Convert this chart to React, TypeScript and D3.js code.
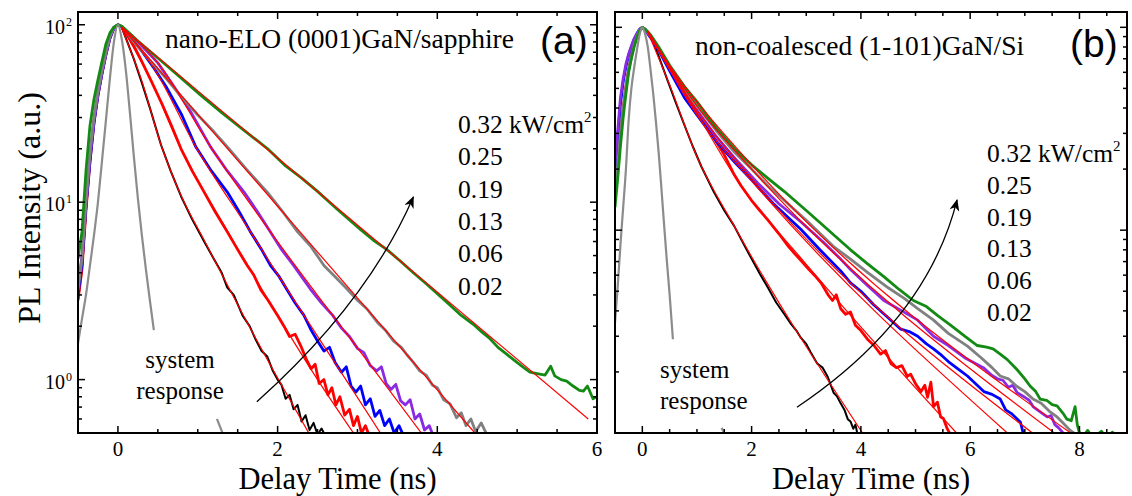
import React, { useEffect, useRef } from "react";
import * as d3 from "d3";

type Pt = [number, number];

// ---- panel (a): nano-ELO (0001)GaN/sapphire, [delay ns, PL a.u.] ----
const aSystem: Pt[] = [
  [-0.5, 1.6], [-0.45, 2.2], [-0.4, 3.0], [-0.35, 4.4], [-0.3, 6.5], [-0.25, 10], [-0.2, 17],
  [-0.15, 29], [-0.1, 50], [-0.05, 80], [0, 100], [0.05, 82], [0.1, 55], [0.15, 32], [0.2, 18],
  [0.25, 10.5], [0.3, 6.5], [0.35, 4.2], [0.4, 2.8], [0.45, 1.9],
];
const aSystemTail: Pt[] = [[1.24, 0.6], [1.31, 0.5]];

const aBlack: Pt[] = [
  [-0.5, 2.8], [-0.45, 4.2], [-0.4, 9], [-0.35, 17], [-0.3, 28], [-0.25, 40], [-0.2, 53], [-0.15, 68],
  [-0.1, 84], [-0.05, 96], [0, 100], [0.05, 96], [0.1, 84], [0.2, 64], [0.3, 47], [0.4, 34], [0.54, 21],
  [0.66, 15], [0.79, 10.8], [0.93, 8], [1.08, 6], [1.2, 4.8], [1.3, 4.0], [1.37, 3.3], [1.45, 3.0],
  [1.56, 2.3], [1.65, 2.0], [1.72, 1.7], [1.8, 1.45], [1.87, 1.35], [1.94, 1.12], [2.0, 1.0], [2.05, 0.93],
  [2.1, 0.78], [2.15, 0.82], [2.2, 0.68], [2.25, 0.72], [2.3, 0.58], [2.35, 0.63], [2.4, 0.52],
  [2.45, 0.57], [2.5, 0.49], [2.55, 0.53], [2.6, 0.48],
];
const aRed: Pt[] = [
  [-0.5, 2.8], [-0.45, 4.2], [-0.4, 9], [-0.35, 17], [-0.3, 28], [-0.25, 40], [-0.2, 53], [-0.15, 68],
  [-0.1, 84], [-0.05, 96], [0, 100], [0.05, 97], [0.1, 90], [0.2, 76], [0.3, 62], [0.4, 50], [0.55, 36],
  [0.67, 27], [0.79, 20], [0.93, 15], [1.08, 11.4], [1.22, 8.8], [1.37, 6.8], [1.5, 5.4], [1.62, 4.4],
  [1.7, 3.9], [1.79, 3.2], [1.88, 2.8], [2.0, 2.3], [2.08, 2.0], [2.15, 1.75], [2.22, 1.8], [2.29, 1.55],
  [2.36, 1.3], [2.42, 1.15], [2.47, 1.22], [2.52, 0.95], [2.58, 1.0], [2.63, 0.82], [2.68, 0.9],
  [2.73, 0.72], [2.78, 0.8], [2.84, 0.63], [2.9, 0.68], [2.95, 0.55], [3.0, 0.62], [3.05, 0.5],
  [3.1, 0.55], [3.15, 0.48],
];
const aBlue: Pt[] = [
  [-0.5, 3.0], [-0.45, 4.5], [-0.4, 9.5], [-0.35, 17], [-0.3, 28], [-0.25, 40], [-0.2, 53], [-0.15, 68],
  [-0.1, 84], [-0.05, 96], [0, 100], [0.05, 97], [0.15, 86], [0.3, 71], [0.45, 57], [0.6, 45], [0.8, 31],
  [0.975, 20.5], [1.17, 15], [1.37, 11.4], [1.52, 8.8], [1.66, 6.8], [1.8, 5.4], [1.91, 4.4], [2.02, 3.8],
  [2.12, 3.2], [2.22, 2.7], [2.33, 2.3], [2.42, 1.9], [2.5, 1.65], [2.58, 1.45], [2.65, 1.52], [2.72, 1.25],
  [2.8, 1.1], [2.86, 1.18], [2.92, 0.92], [2.98, 0.85], [3.04, 0.92], [3.1, 0.72], [3.16, 0.78],
  [3.22, 0.62], [3.28, 0.67], [3.34, 0.55], [3.4, 0.6], [3.46, 0.5], [3.52, 0.55], [3.58, 0.48],
];
const aPurple: Pt[] = [
  [-0.5, 3.3], [-0.45, 5], [-0.4, 10], [-0.35, 18], [-0.3, 29], [-0.25, 41], [-0.2, 54], [-0.15, 69],
  [-0.1, 85], [-0.05, 96], [0, 100], [0.05, 97], [0.15, 89], [0.3, 76], [0.5, 61], [0.7, 45], [0.9, 33],
  [1.16, 20.5], [1.37, 15], [1.58, 11.4], [1.75, 8.8], [1.91, 6.8], [2.05, 5.4], [2.2, 4.4], [2.3, 3.8],
  [2.41, 3.24], [2.55, 2.7], [2.69, 2.3], [2.8, 1.95], [2.9, 1.75], [3.0, 1.5], [3.08, 1.42], [3.16, 1.2],
  [3.24, 1.12], [3.3, 1.18], [3.36, 0.95], [3.42, 0.88], [3.48, 0.94], [3.54, 0.76], [3.6, 0.72],
  [3.66, 0.77], [3.72, 0.6], [3.78, 0.64], [3.84, 0.52], [3.9, 0.55], [3.95, 0.48],
];
const aGray: Pt[] = [
  [-0.5, 3.2], [-0.45, 4.8], [-0.4, 10], [-0.35, 19], [-0.3, 30], [-0.25, 42], [-0.2, 55], [-0.15, 70],
  [-0.1, 86], [-0.05, 97], [0, 100], [0.05, 98], [0.2, 80], [0.4, 63], [0.6, 50], [0.8, 39], [1.0, 31],
  [1.2, 25], [1.39, 20], [1.6, 15.5], [1.87, 11.4], [2.05, 9], [2.25, 6.8], [2.42, 5.6], [2.58, 4.4],
  [2.72, 3.8], [2.87, 3.24], [3.0, 2.8], [3.12, 2.5], [3.25, 2.1], [3.35, 1.9], [3.45, 1.65], [3.55, 1.52],
  [3.62, 1.38], [3.7, 1.25], [3.78, 1.12], [3.86, 1.06], [3.94, 0.93], [4.0, 0.9], [4.08, 0.77],
  [4.16, 0.73], [4.24, 0.61], [4.3, 0.65], [4.36, 0.55], [4.42, 0.6], [4.48, 0.51], [4.55, 0.57],
  [4.62, 0.49],
];
const aGreen: Pt[] = [
  [-0.5, 4.8], [-0.45, 6.8], [-0.4, 15], [-0.35, 27], [-0.3, 38], [-0.25, 49], [-0.2, 62], [-0.15, 78],
  [-0.1, 90], [-0.05, 97], [0, 100], [0.05, 98], [0.25, 81], [0.5, 65], [0.75, 52], [1.04, 40], [1.3, 32],
  [1.6, 25], [1.875, 20], [2.1, 16], [2.29, 13.8], [2.5, 11.5], [2.75, 9.1], [3.04, 7], [3.2, 6.1],
  [3.37, 5.4], [3.55, 4.6], [3.7, 4.0], [3.85, 3.5], [4.0, 3.05], [4.15, 2.65], [4.3, 2.3], [4.45, 2.05],
  [4.56, 1.85], [4.66, 1.7], [4.76, 1.52], [4.86, 1.4], [4.95, 1.3], [5.05, 1.2], [5.16, 1.1], [5.25, 1.08],
  [5.35, 1.06], [5.42, 1.19], [5.47, 1.05], [5.55, 1.0], [5.62, 0.98], [5.7, 0.92], [5.78, 0.87],
  [5.83, 0.86], [5.88, 0.92], [5.95, 0.78], [6.0, 0.8],
];

// thin red fits, read along each decay
const aFitBlack: Pt[] = [[0.05, 95], [0.3, 48], [0.54, 21], [0.79, 10.9], [1.08, 6.1], [1.56, 2.35], [2.0, 1.02], [2.39, 0.5]];
const aFitRed: Pt[] = [[0.05, 97], [0.4, 50], [0.79, 20], [1.37, 6.9], [2.0, 2.3], [2.5, 1.0], [2.95, 0.5]];
const aFitBlue: Pt[] = [[0.05, 97], [0.45, 57], [0.975, 20.5], [1.66, 6.8], [2.33, 2.3], [2.9, 0.93], [3.3, 0.49]];
const aFitPurple: Pt[] = [[0.05, 97], [0.5, 61], [1.16, 20.5], [1.91, 6.8], [2.69, 2.3], [3.3, 1.0], [3.8, 0.5]];
const aFitGray: Pt[] = [[0.05, 97], [4.47, 0.5]];
const aFitGreen: Pt[] = [[0.05, 97], [5.89, 0.6]];

// ---- panel (b): non-coalesced (1-101)GaN/Si ----
const bSystem: Pt[] = [
  [-0.5, 3.5], [-0.45, 5.3], [-0.4, 8.5], [-0.35, 13], [-0.3, 20], [-0.25, 35], [-0.2, 50], [-0.15, 63],
  [-0.1, 77], [-0.05, 92], [0, 100], [0.05, 93], [0.1, 80], [0.15, 62], [0.2, 47], [0.25, 34], [0.3, 24],
  [0.35, 16], [0.4, 10.5], [0.45, 7], [0.5, 4.8], [0.56, 2.9],
];
const bSystemTail: Pt[] = [[1.45, 1.06], [1.5, 1.0]];

const bBlack: Pt[] = [
  [-0.5, 15], [-0.45, 21], [-0.4, 30], [-0.35, 40], [-0.3, 51], [-0.25, 62], [-0.2, 72], [-0.15, 82],
  [-0.1, 90], [-0.05, 97], [0, 100], [0.05, 97], [0.16, 90], [0.3, 72], [0.47, 54], [0.62, 42], [0.77, 33],
  [0.92, 26], [1.08, 20.6], [1.31, 15.4], [1.5, 12.5], [1.68, 10.5], [1.85, 8.6], [1.99, 7.3], [2.15, 6.1],
  [2.3, 5.2], [2.45, 4.4], [2.6, 3.85], [2.72, 3.45], [2.82, 3.2], [2.9, 2.95], [3.0, 2.75], [3.08, 2.5],
  [3.2, 2.2], [3.3, 2.1], [3.39, 1.9], [3.45, 1.72], [3.5, 1.58], [3.56, 1.52], [3.63, 1.4], [3.7, 1.3],
  [3.76, 1.17], [3.81, 1.14], [3.86, 1.05], [3.9, 1.1], [3.94, 0.98],
];
const bRed: Pt[] = [
  [-0.5, 15], [-0.45, 21], [-0.4, 30], [-0.35, 40], [-0.3, 51], [-0.25, 62], [-0.2, 72], [-0.15, 82],
  [-0.1, 90], [-0.05, 97], [0, 100], [0.05, 98], [0.2, 86], [0.45, 66], [0.77, 48], [1.0, 38], [1.26, 30],
  [1.5, 23.5], [1.68, 18.8], [1.81, 16.5], [2.0, 14], [2.15, 12.5], [2.3, 11.2], [2.5, 9.6], [2.66, 8.4],
  [2.8, 7.6], [2.9, 7.1], [3.05, 6.4], [3.15, 6.0], [3.27, 5.5], [3.4, 4.8], [3.48, 4.5], [3.55, 4.8],
  [3.63, 4.1], [3.72, 3.85], [3.81, 3.95], [3.9, 3.4], [4.0, 3.2], [4.12, 2.9], [4.24, 2.7], [4.36, 2.45],
  [4.45, 2.55], [4.55, 2.2], [4.65, 2.1], [4.75, 2.15], [4.85, 1.9], [4.91, 1.95], [5.0, 1.75], [5.1, 1.6],
  [5.17, 1.72], [5.22, 1.5], [5.28, 1.78], [5.33, 1.35], [5.4, 1.42], [5.46, 1.2], [5.51, 1.18],
  [5.58, 1.05], [5.64, 0.98],
];
const bBlue: Pt[] = [
  [-0.5, 19], [-0.45, 29], [-0.4, 42], [-0.35, 54], [-0.3, 64], [-0.25, 73], [-0.2, 80], [-0.15, 87],
  [-0.1, 93], [-0.05, 98], [0, 100], [0.05, 97], [0.15, 89], [0.3, 77], [0.5, 61], [0.77, 45], [1.0, 37],
  [1.35, 27.5], [1.7, 21.5], [1.99, 17.8], [2.4, 13.5], [2.9, 10.1], [3.25, 8], [3.63, 6.3], [3.81, 5.5],
  [4.0, 5.0], [4.23, 4.3], [4.5, 3.7], [4.73, 3.25], [4.9, 3.15], [5.04, 3.0], [5.2, 2.75], [5.33, 2.6],
  [5.45, 2.45], [5.6, 2.25], [5.8, 2.05], [5.95, 1.91], [6.1, 1.75], [6.25, 1.6], [6.4, 1.55],
  [6.55, 1.47], [6.65, 1.3], [6.75, 1.25], [6.85, 1.18], [6.92, 1.13], [6.97, 1.0],
];
const bPurple: Pt[] = [
  [-0.5, 21], [-0.45, 31], [-0.4, 45], [-0.35, 56], [-0.3, 66], [-0.25, 74], [-0.2, 81], [-0.15, 88],
  [-0.1, 93], [-0.05, 98], [0, 100], [0.05, 97], [0.15, 90], [0.3, 78], [0.5, 63], [0.77, 47], [1.0, 39],
  [1.35, 29], [1.7, 22.5], [2.12, 17], [2.5, 13.5], [2.9, 11], [3.3, 8.8], [3.63, 7.2], [3.81, 6.4],
  [4.1, 5.4], [4.42, 4.5], [4.75, 4.0], [5.04, 3.6], [5.33, 3.0], [5.6, 2.7], [5.9, 2.35], [6.24, 2.1],
  [6.4, 1.92], [6.5, 1.85], [6.6, 1.82], [6.7, 1.68], [6.78, 1.72], [6.86, 1.58], [7.0, 1.5], [7.08, 1.45],
  [7.15, 1.35], [7.3, 1.26], [7.41, 1.2], [7.48, 1.22], [7.55, 1.1], [7.62, 1.06], [7.7, 1.0],
];
const bGray: Pt[] = [
  [-0.5, 15], [-0.45, 21], [-0.4, 30], [-0.35, 40], [-0.3, 51], [-0.25, 62], [-0.2, 72], [-0.15, 82],
  [-0.1, 90], [-0.05, 97], [0, 100], [0.05, 98], [0.15, 91], [0.3, 79], [0.5, 64], [0.77, 49], [1.0, 41],
  [1.35, 31], [1.7, 24], [2.0, 20], [2.3, 16.5], [2.6, 14], [3.0, 11.2], [3.5, 8.3], [3.81, 7.2],
  [4.12, 6.2], [4.5, 5.2], [4.8, 4.6], [5.04, 4.1], [5.33, 3.6], [5.6, 3.1], [5.95, 2.68], [6.2, 2.35],
  [6.4, 2.1], [6.55, 1.91], [6.7, 1.85], [6.85, 1.7], [7.0, 1.6], [7.15, 1.47], [7.3, 1.4], [7.45, 1.28],
  [7.59, 1.2], [7.7, 1.12], [7.83, 1.03], [7.9, 1.0],
];
const bGreen: Pt[] = [
  [-0.5, 13], [-0.45, 18], [-0.4, 26], [-0.35, 36], [-0.3, 47], [-0.25, 60], [-0.2, 70], [-0.15, 80],
  [-0.1, 89], [-0.05, 96], [0, 100], [0.05, 98], [0.15, 92], [0.3, 80], [0.5, 65], [0.77, 51], [1.0, 43],
  [1.35, 32], [1.7, 25], [2.0, 21], [2.3, 18], [2.6, 15.5], [3.0, 12.5], [3.3, 10.6], [3.5, 9.5],
  [3.81, 8.0], [4.1, 6.9], [4.42, 5.9], [4.7, 5.1], [4.96, 4.5], [5.2, 4.2], [5.4, 3.8], [5.64, 3.4],
  [5.9, 3.0], [6.13, 2.7], [6.3, 2.65], [6.42, 2.6], [6.55, 2.45], [6.68, 2.3], [6.86, 2.05], [7.0, 1.85],
  [7.1, 1.7], [7.2, 1.6], [7.28, 1.47], [7.4, 1.45], [7.5, 1.38], [7.59, 1.36], [7.7, 1.25], [7.77, 1.17],
  [7.85, 1.15], [7.92, 1.35], [7.96, 1.1], [8.0, 1.0], [8.05, 0.95], [8.15, 1.03], [8.25, 0.94],
  [8.4, 1.02], [8.5, 0.95], [8.6, 1.01], [8.7, 0.96],
];

const bFitBlack: Pt[] = [[0.1, 95], [0.5, 52], [1.0, 23], [1.68, 10.5], [4.03, 1.0]];
const bFitRed: Pt[] = [[0.1, 95], [0.77, 48], [1.81, 16.5], [2.9, 7.3], [5.75, 1.0]];
const bFitBlue: Pt[] = [[0.1, 95], [0.5, 62], [1.0, 37], [2.0, 17.5], [6.68, 1.0]];
const bFitPurple: Pt[] = [[0.1, 95], [0.5, 63], [1.0, 39], [2.0, 18], [7.14, 1.0]];
const bFitGray: Pt[] = [[0.1, 96], [0.5, 64], [1.0, 41], [2.0, 20], [7.54, 1.0]];
const bFitGreen: Pt[] = [[0.1, 96], [0.5, 65], [1.0, 43], [2.0, 21], [7.84, 1.0]];

// excitation densities, top to bottom as printed
const powerLabels = ["0.32", "0.25", "0.19", "0.13", "0.06", "0.02"];
// 0.02 -> 0.32 kW/cm2
const seriesColors = ["#000000", "#ff0000", "#0000ff", "#8a2be2", "#808080", "#138a13"];
const xTicksA = [0, 2, 4, 6];
const xTicksB = [0, 2, 4, 6, 8];
const yLabelTicks = [1, 10, 100];
const yExponents = ["0", "1", "2"];

// arrow "increasing power" in data units: start, control, end
const aArrow: Pt[] = [[1.74, 0.75], [3.12, 2.7], [3.7, 10.7]];
const bArrow: Pt[] = [[2.83, 1.34], [5.21, 3.61], [5.76, 14.1]];

const serif = "'Liberation Serif', 'Times New Roman', serif";
const sans = "'Liberation Sans', Arial, sans-serif";

const panels = [
  {
    id: "a",
    box: { left: 78, right: 597, top: 12, bottom: 433 },
    xDomain: [-0.5, 6],
    yDomain: [0.5, 118],
    xTicks: xTicksA,
    yLabels: true,
    system: aSystem,
    systemTail: aSystemTail,
    curves: [aBlack, aRed, aBlue, aPurple, aGray, aGreen],
    fits: [aFitBlack, aFitRed, aFitBlue, aFitPurple, aFitGray, aFitGreen],
    arrow: aArrow,
    title: "nano-ELO (0001)GaN/sapphire",
    titlePos: [165, 48],
    tag: "(a)",
    tagPos: [540, 54],
    legendPos: [458, 133],
    legendStep: 32.3,
    sysText: { x: 180, y: 368, anchor: "middle" },
  },
  {
    id: "b",
    box: { left: 615, right: 1127, top: 12, bottom: 433 },
    xDomain: [-0.5, 8.87],
    yDomain: [1, 119],
    xTicks: xTicksB,
    yLabels: false,
    system: bSystem,
    systemTail: bSystemTail,
    curves: [bBlack, bRed, bBlue, bPurple, bGray, bGreen],
    fits: [bFitBlack, bFitRed, bFitBlue, bFitPurple, bFitGray, bFitGreen],
    arrow: bArrow,
    title: "non-coalesced (1-101)GaN/Si",
    titlePos: [695, 55],
    tag: "(b)",
    tagPos: [1070, 57],
    legendPos: [987, 162],
    legendStep: 31.8,
    sysText: { x: 660, y: 378, anchor: "start" },
  },
];

export default function App() {
  const svgRef = useRef<SVGSVGElement>(null);

  useEffect(() => {
    const svg = d3.select(svgRef.current);
    svg.selectAll("*").remove();

    const defs = svg.append("defs");
    defs
      .append("marker")
      .attr("id", "arrowHead")
      .attr("viewBox", "0 0 12 10")
      .attr("refX", 11)
      .attr("refY", 5)
      .attr("markerWidth", 13)
      .attr("markerHeight", 10)
      .attr("markerUnits", "userSpaceOnUse")
      .attr("orient", "auto")
      .append("path")
      .attr("d", "M0,0 L12,5 L0,10 L3.5,5 Z")
      .attr("fill", "#000");

    panels.forEach((p) => {
      const { left, right, top, bottom } = p.box;
      const x = d3.scaleLinear().domain(p.xDomain).range([left, right]);
      const y = d3.scaleLog().domain(p.yDomain).range([bottom, top]);
      const g = svg.append("g");

      defs
        .append("clipPath")
        .attr("id", `clip-${p.id}`)
        .append("rect")
        .attr("x", left)
        .attr("y", top)
        .attr("width", right - left)
        .attr("height", bottom - top);

      // raw data: straight segments keep the noisy look
      const dataLine = d3
        .line<Pt>()
        .x((d) => x(d[0]))
        .y((d) => y(d[1]));
      const smoothLine = d3
        .line<Pt>()
        .x((d) => x(d[0]))
        .y((d) => y(d[1]))
        .curve(d3.curveMonotoneX);

      const plot = g.append("g").attr("clip-path", `url(#clip-${p.id})`);

      // measured decays
      p.curves.forEach((c, i) => {
        plot
          .append("path")
          .attr("d", dataLine(c))
          .attr("fill", "none")
          .attr("stroke", seriesColors[i])
          .attr("stroke-width", i === 0 ? 2 : 2.8)
          .attr("stroke-linejoin", "round");
      });

      // system response
      [p.system, p.systemTail].forEach((s) => {
        plot
          .append("path")
          .attr("d", smoothLine(s))
          .attr("fill", "none")
          .attr("stroke", "#8c8c8c")
          .attr("stroke-width", 2.2);
      });

      // exponential fits
      p.fits.forEach((f) => {
        plot
          .append("path")
          .attr("d", smoothLine(f))
          .attr("fill", "none")
          .attr("stroke", "#ff0000")
          .attr("stroke-width", 1.2);
      });

      // frame
      g.append("rect")
        .attr("x", left)
        .attr("y", top)
        .attr("width", right - left)
        .attr("height", bottom - top)
        .attr("fill", "none")
        .attr("stroke", "#000")
        .attr("stroke-width", 2);

      // x ticks, inward on bottom and top
      const [x0, x1] = p.xDomain;
      const xMinor = d3.range(Math.ceil(x0 * 2) / 2, x1 + 1e-6, 0.5);
      xMinor.forEach((v) => {
        const major = p.xTicks.includes(v);
        const len = major ? 7 : 4;
        const px = x(v);
        if (px <= left + 1 || px >= right - 1) return;
        g.append("line")
          .attr("x1", px).attr("x2", px)
          .attr("y1", bottom).attr("y2", bottom - len)
          .attr("stroke", "#000").attr("stroke-width", 1.5);
        g.append("line")
          .attr("x1", px).attr("x2", px)
          .attr("y1", top).attr("y2", top + len)
          .attr("stroke", "#000").attr("stroke-width", 1.5);
      });
      p.xTicks.forEach((v) => {
        g.append("text")
          .attr("x", x(v))
          .attr("y", 456)
          .attr("text-anchor", "middle")
          .attr("font-family", serif)
          .attr("font-size", 21)
          .text(v);
      });

      // y ticks, inward on left and right
      const [y0, y1] = p.yDomain;
      const yMinor: number[] = [];
      for (let e = -1; e <= 2; e++) {
        for (let k = 1; k <= 9; k++) {
          const v = k * Math.pow(10, e);
          if (v >= y0 && v <= y1) yMinor.push(v);
        }
      }
      yMinor.forEach((v) => {
        const major = yLabelTicks.includes(v);
        const len = major ? 7 : 4;
        const py = y(v);
        if (py >= bottom - 1 || py <= top + 1) return;
        g.append("line")
          .attr("x1", left).attr("x2", left + len)
          .attr("y1", py).attr("y2", py)
          .attr("stroke", "#000").attr("stroke-width", 1.5);
        g.append("line")
          .attr("x1", right).attr("x2", right - len)
          .attr("y1", py).attr("y2", py)
          .attr("stroke", "#000").attr("stroke-width", 1.5);
      });
      if (p.yLabels) {
        yLabelTicks.forEach((v, i) => {
          g.append("text")
            .attr("x", 65)
            .attr("y", y(v) + 9)
            .attr("text-anchor", "end")
            .attr("font-family", serif)
            .attr("font-size", 20)
            .text("10");
          g.append("text")
            .attr("x", 66)
            .attr("y", y(v) + 1)
            .attr("font-family", serif)
            .attr("font-size", 12)
            .text(yExponents[i]);
        });
      }

      // axis title
      g.append("text")
        .attr("x", (left + right) / 2)
        .attr("y", 489)
        .attr("text-anchor", "middle")
        .attr("font-family", serif)
        .attr("font-size", 30.5)
        .text("Delay Time (ns)");

      // sample title and panel tag
      g.append("text")
        .attr("x", p.titlePos[0])
        .attr("y", p.titlePos[1])
        .attr("font-family", serif)
        .attr("font-size", 27.5)
        .text(p.title);
      g.append("text")
        .attr("x", p.tagPos[0])
        .attr("y", p.tagPos[1])
        .attr("font-family", sans)
        .attr("font-size", 39)
        .text(p.tag);

      // power legend
      powerLabels.forEach((lab, i) => {
        const ty = p.legendPos[1] + i * p.legendStep;
        const t = g
          .append("text")
          .attr("x", p.legendPos[0])
          .attr("y", ty)
          .attr("font-family", serif)
          .attr("font-size", 25.5)
          .text(i === 0 ? `${lab} kW/cm` : lab);
        if (i === 0) {
          t.append("tspan").attr("font-size", 15).attr("dy", -11).text("2");
        }
      });

      // system response label
      ["system", "response"].forEach((w, i) => {
        g.append("text")
          .attr("x", p.sysText.x)
          .attr("y", p.sysText.y + i * 31)
          .attr("text-anchor", p.sysText.anchor)
          .attr("font-family", serif)
          .attr("font-size", 25)
          .text(w);
      });

      // curved arrow
      const [s, c, e] = p.arrow;
      const path = d3.path();
      path.moveTo(x(s[0]), y(s[1]));
      path.quadraticCurveTo(x(c[0]), y(c[1]), x(e[0]), y(e[1]));
      g.append("path")
        .attr("d", path.toString())
        .attr("fill", "none")
        .attr("stroke", "#000")
        .attr("stroke-width", 1.3)
        .attr("marker-end", "url(#arrowHead)");
    });

    // shared y title
    svg
      .append("text")
      .attr("transform", "translate(40,208) rotate(-90)")
      .attr("text-anchor", "middle")
      .attr("font-family", serif)
      .attr("font-size", 32)
      .text("PL Intensity (a.u.)");
  }, []);

  return (
    <div style={{ position: "absolute", left: 0, top: 0 }}>
      <svg ref={svgRef} width={1132} height={496} style={{ display: "block", background: "#fff" }} />
    </div>
  );
}
